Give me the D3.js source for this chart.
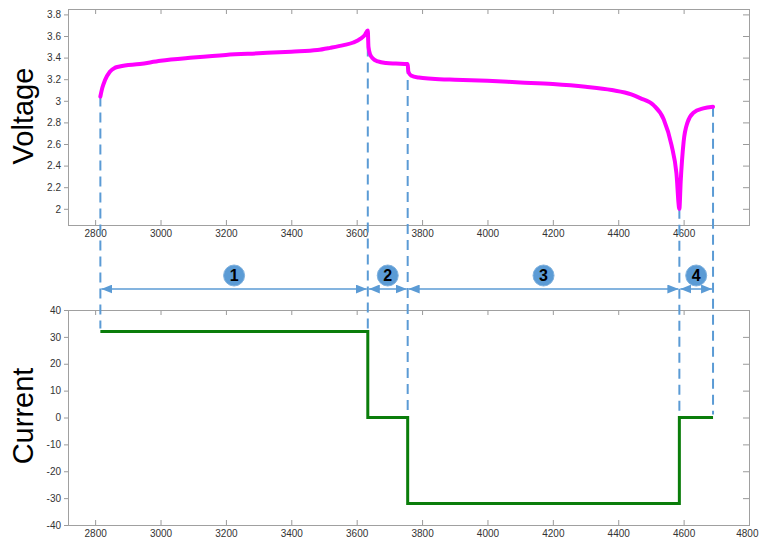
<!DOCTYPE html>
<html>
<head>
<meta charset="utf-8">
<script src="https://cdn.jsdelivr.net/npm/d3@7"></script>
<style>
  html, body { margin: 0; padding: 0; background: #ffffff; }
  svg { display: block; }
  .tick text { font-family: "Liberation Sans", Arial, sans-serif; font-size: 10px; fill: #333; }
  .tick line { stroke: #9a9a9a; }
</style>
</head>
<body>
<svg id="chart" width="759" height="539"></svg>
<script>
// Voltage trace (time in s, volts)
const voltageTime = [
  2816, 2822, 2830, 2845, 2860, 2875, 2937, 3000, 3100, 3200, 3300, 3400, 3480, 3519, 3560, 3590, 3612, 3625, 3634,
  3636, 3641, 3650, 3665, 3690, 3720, 3756,
  3758, 3766, 3790, 3830, 3900, 4000, 4100, 4200, 4300, 4380, 4440, 4467, 4508, 4539, 4563, 4578, 4587,
  4591, 4600, 4612, 4630, 4660, 4690
];
const voltageValue = [
  3.04, 3.12, 3.19, 3.27, 3.305, 3.318, 3.34, 3.37, 3.40, 3.425, 3.44, 3.455, 3.47, 3.49, 3.515, 3.54, 3.575, 3.61, 3.65,
  3.50, 3.43, 3.39, 3.365, 3.35, 3.345, 3.34,
  3.27, 3.235, 3.215, 3.205, 3.195, 3.185, 3.17, 3.155, 3.13, 3.10, 3.06, 3.025, 2.96, 2.83, 2.59, 2.33, 2.0,
  2.25, 2.62, 2.80, 2.89, 2.93, 2.945
];

// Current profile: phase boundaries (s) and the current held in each phase (A)
const phaseBounds = [2816, 3634, 3756, 4587, 4690];
const phaseCurrent = [32, 0, -32, 0];
const phaseLabels = ["1", "2", "3", "4"];

// Axis ticks
const timeTicksTop = [2800, 3000, 3200, 3400, 3600, 3800, 4000, 4200, 4400, 4600];
const timeTicksBottom = [2800, 3000, 3200, 3400, 3600, 3800, 4000, 4200, 4400, 4600, 4800];
const voltageTicks = [2, 2.2, 2.4, 2.6, 2.8, 3, 3.2, 3.4, 3.6, 3.8];
const currentTicks = [-40, -30, -20, -10, 0, 10, 20, 30, 40];

const svg = d3.select("#chart");
const frameColor = "#a0a0a0";
const blue = "#5b9bd5";

const left = 68, right = 749;
const topPanel = { y0: 9, y1: 225 };
const botPanel = { y0: 310, y1: 525 };

const x = d3.scaleLinear().domain([2717, 4800]).range([left, right]);
const yV = d3.scaleLinear().domain([1.85, 3.85]).range([topPanel.y1, topPanel.y0]);
const yI = d3.scaleLinear().domain([-40, 40]).range([botPanel.y1, botPanel.y0]);

const fmt = d => String(+d.toFixed(1));

function drawPanel(panel, yScale, yTicks, xTicks, title, titleY) {
  const g = svg.append("g");
  // bottom axis, ticks pointing inward
  g.append("g").attr("class", "x-bottom").attr("transform", `translate(0,${panel.y1})`)
    .call(d3.axisBottom(x).tickValues(xTicks).tickSizeInner(-5).tickSizeOuter(0).tickPadding(5).tickFormat(d3.format("d")))
    .call(a => a.select(".domain").remove());
  // top axis, ticks only
  g.append("g").attr("transform", `translate(0,${panel.y0})`)
    .call(d3.axisTop(x).tickValues(xTicks).tickSizeInner(-5).tickSizeOuter(0).tickFormat(""))
    .call(a => a.select(".domain").remove());
  // left axis with labels
  g.append("g").attr("transform", `translate(${left},0)`)
    .call(d3.axisLeft(yScale).tickValues(yTicks).tickSizeInner(4).tickSizeOuter(0).tickPadding(3).tickFormat(fmt))
    .call(a => a.select(".domain").remove());
  // right axis, ticks only
  g.append("g").attr("transform", `translate(${right},0)`)
    .call(d3.axisRight(yScale).tickValues(yTicks).tickSizeInner(-6).tickSizeOuter(0).tickFormat(""))
    .call(a => a.select(".domain").remove());
  // frame
  g.append("rect")
    .attr("x", left + 0.5).attr("y", panel.y0 + 0.5)
    .attr("width", right - left).attr("height", panel.y1 - panel.y0)
    .attr("fill", "none").attr("stroke", frameColor).attr("stroke-width", 1);
  // panel title
  g.append("text")
    .attr("transform", `translate(33,${titleY}) rotate(-90)`)
    .attr("text-anchor", "middle")
    .attr("font-family", "Liberation Sans, Arial, sans-serif")
    .attr("font-size", 29)
    .attr("fill", "#000")
    .text(title);
  return g;
}

drawPanel(topPanel, yV, voltageTicks, timeTicksTop, "Voltage", 116);
const bottomG = drawPanel(botPanel, yI, currentTicks, timeTicksBottom, "Current", 416);
// keep the last time label inside the page
bottomG.selectAll(".x-bottom .tick text").filter(d => d === 4800).attr("text-anchor", "end").attr("dx", 9);

// Dashed guide lines at the phase boundaries, from voltage trace down to current trace
const voltAt = t => voltageValue[voltageTime.indexOf(t)];
const guides = phaseBounds.map((t, i) => {
  const before = i > 0 ? phaseCurrent[i - 1] : phaseCurrent[0];
  const after = i < phaseCurrent.length ? phaseCurrent[i] : phaseCurrent[phaseCurrent.length - 1];
  return { t, v: voltAt(t), c: Math.max(before, after) };
});
svg.append("g").selectAll("line").data(guides).join("line")
  .attr("x1", d => x(d.t)).attr("x2", d => x(d.t))
  .attr("y1", d => yV(d.v)).attr("y2", d => yI(d.c) - 3)
  .attr("stroke", blue).attr("stroke-width", 2)
  .attr("stroke-dasharray", "10,6");

// Phase span arrows and numbered markers
const defs = svg.append("defs");
defs.append("marker").attr("id", "arrowhead")
  .attr("viewBox", "0 0 11 9").attr("refX", 11).attr("refY", 4.5)
  .attr("markerWidth", 11).attr("markerHeight", 9).attr("markerUnits", "userSpaceOnUse")
  .attr("orient", "auto-start-reverse")
  .append("path").attr("d", "M0,0 L11,4.5 L0,9 Z").attr("fill", blue);

const arrowY = 289;
const spans = phaseCurrent.map((c, i) => ({ a: phaseBounds[i], b: phaseBounds[i + 1], label: phaseLabels[i] }));
const spanG = svg.append("g");
spanG.selectAll("line").data(spans).join("line")
  .attr("x1", d => x(d.a) + 1).attr("x2", d => x(d.b) - 1)
  .attr("y1", arrowY).attr("y2", arrowY)
  .attr("stroke", blue).attr("stroke-width", 1.5)
  .attr("marker-start", "url(#arrowhead)").attr("marker-end", "url(#arrowhead)");

const badge = spanG.selectAll("g.badge").data(spans).join("g").attr("class", "badge")
  .attr("transform", d => `translate(${(x(d.a) + x(d.b)) / 2},275.5)`);
badge.append("circle").attr("r", 10.5).attr("fill", blue).attr("stroke", "#7fb1de").attr("stroke-width", 1);
badge.append("text")
  .attr("text-anchor", "middle").attr("dy", "0.36em")
  .attr("font-family", "Liberation Sans, Arial, sans-serif")
  .attr("font-weight", "bold").attr("font-size", 16).attr("fill", "#000")
  .text(d => d.label);

// Voltage trace
svg.append("path")
  .datum(voltageTime.map((t, i) => [t, voltageValue[i]]))
  .attr("d", d3.line().x(d => x(d[0])).y(d => yV(d[1])).curve(d3.curveMonotoneX))
  .attr("fill", "none").attr("stroke", "#ff00ff").attr("stroke-width", 4)
  .attr("stroke-linejoin", "round").attr("stroke-linecap", "round");

// Current trace (step profile)
const currentPts = phaseBounds.map((t, i) => [t, phaseCurrent[Math.min(i, phaseCurrent.length - 1)]]);
svg.append("path")
  .datum(currentPts)
  .attr("d", d3.line().x(d => x(d[0])).y(d => yI(d[1])).curve(d3.curveStepAfter))
  .attr("fill", "none").attr("stroke", "#0a7d0a").attr("stroke-width", 3);
</script>
</body>
</html>
